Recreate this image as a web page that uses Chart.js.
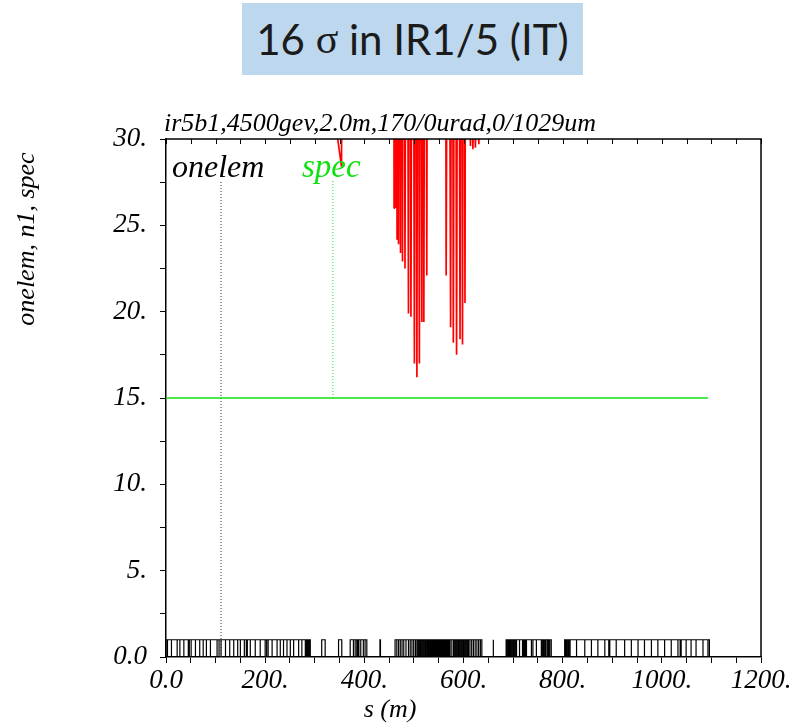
<!DOCTYPE html>
<html>
<head>
<meta charset="utf-8">
<title>16 sigma in IR1/5 (IT)</title>
<script src="https://cdn.jsdelivr.net/npm/chart.js@4.4.1/dist/chart.umd.min.js"></script>
<style>
    html, body { margin: 0; padding: 0; background: #fff; overflow: hidden; }
    #wrap { position: relative; width: 789px; height: 726px; }
    #apertureChart { position: absolute; left: 0; top: 0; }
    #banner {
        position: absolute; left: 242px; top: 3px; width: 341px; height: 72px;
        background: #bdd7ee; color: #1b1b1b;
        font-family: Lato, 'Open Sans', sans-serif; font-size: 42px;
        display: flex; align-items: center; justify-content: center;
        white-space: pre;
    }
    #banner .sym { font-family: 'Liberation Serif', serif; }
</style>
</head>
<body>
<div id="wrap">
    <canvas id="apertureChart" width="789" height="726"></canvas>
    <div id="banner">16 <span class="sym">σ</span> in IR1/5 (IT)</div>
</div>
<script>
// Plot texts
const plotTitle = 'ir5b1,4500gev,2.0m,170/0urad,0/1029um';
const yTitle = 'onelem, n1, spec';
const xTitle = 's (m)';

// Tick labels (major ticks only)
const xTickLabels = ['0.0', '200.', '400.', '600.', '800.', '1000.', '1200.'];
const yTickLabels = ['0.0', '5.', '10.', '15.', '20.', '25.', '30.'];

// n1 aperture curve (s in m, n1 in sigma); values above 30 run off the top
const n1S = [300, 330, 354, 357, 459, 460, 461.5, 463, 464.5, 466, 467.5, 469, 471, 473, 475, 477,
    479.5, 482, 485.5, 489, 491.5, 494, 497.5, 501, 503.5, 506, 508.5, 511, 513.5, 516, 518, 520,
    523, 526, 528, 563, 565, 569.5, 574, 577, 579.5, 583, 586, 589.5, 593, 595.5, 598, 600.5, 603,
    605, 612, 614, 616.5, 619, 621.5, 624, 627.5, 631, 633, 700];
const n1V = [60, 33.4, 28.4, 60, 60, 26.0, 60, 26.0, 60, 24.2, 60, 23.9, 60, 23.4, 60, 22.9,
    60, 22.5, 60, 19.9, 60, 19.7, 60, 17.0, 60, 16.2, 60, 17.0, 60, 19.4, 60, 19.4,
    60, 22.1, 60, 60, 22.1, 60, 19.1, 60, 18.2, 60, 17.5, 60, 18.4, 60, 18.1, 60, 20.5,
    60, 34, 29.6, 34, 29.4, 34, 29.5, 34, 29.7, 40, 60];

// spec level line
const specLevel = 15;
const specFrom = 0;
const specTo = 1093;

// label marker lines (s position, from, to)
const onelemMarker = [111, 0, 27.6];
const specMarker = [336.6, 15, 27.6];

// element boxes: contiguous element edges (m) along the beam line
const elemHeight = 1;
const elemArcLeft = [0, 3, 11, 22.5, 28, 36, 45, 47, 50.7, 59.4, 68, 75, 81.5, 89.6, 103, 107, 111,
    120, 128.5, 136.6, 144.6, 150, 158, 162, 164, 170, 180, 190, 200, 203, 206, 214, 224, 230.5,
    237, 244, 250.7, 257.4, 267.5, 274, 281, 283, 285, 287, 289, 291];
const elemMidA = [314, 321];
const elemMidB = [348, 354.5];
const elemMidC = [371.5, 378, 381.5, 384.8, 387, 389, 392.8, 398, 401.5, 405];
const elemMidD = [431.5, 432.5];
const elemIR = [462, 465.5, 469, 472.5, 476, 479.5, 484, 489, 492.5, 496, 499.5, 503, 506,
    508.5, 511, 513.5, 516, 518.5, 521, 523.5, 526, 527.2, 528.5, 529.6, 530.9, 532, 533.3, 534.4,
    535.7, 536.8, 538, 539.3, 540.4, 541.7, 542.8, 544, 545.3, 546.4, 547.7, 548.8, 550, 551.3,
    552.4, 553.7, 554.8, 556, 557.3, 558.4, 559.7, 560.8, 562, 563.3, 564.4, 565.7, 566.8, 568,
    569.3, 570.4, 571.7, 573, 576.5, 580, 582.5, 585, 587.5, 590, 592.5, 595, 597.5, 600, 602.5,
    605, 607.5, 610, 613, 616.5, 620, 623.5, 627, 630.5, 634, 637];
const elemMidE = [659.5, 660.5];
const elemArcRightA = [686, 688, 690.5, 693, 695, 697.5, 700, 702, 704.5, 707, 713, 719, 721, 723,
    725, 727, 737, 740, 747, 757, 759, 761.5, 764, 766, 769, 771.5, 774, 777];
const elemArcRightB = [804, 806, 808, 810.5, 812.5, 815, 828, 844.6, 858, 871, 885, 893, 895, 908,
    925, 938.5, 952, 965, 979, 992, 1005.6, 1019, 1032.5, 1037, 1039, 1049, 1059, 1069, 1083,
    1093, 1096];

const elemGroups = [elemArcLeft, elemMidA, elemMidB, elemMidC, elemMidD, elemIR, elemMidE,
    elemArcRightA, elemArcRightB];

// outline every element as a box standing on the axis
const elemPoints = [];
elemGroups.forEach(edges => {
    for (let i = 0; i < edges.length - 1; i++) {
        const a = edges[i], b = edges[i + 1];
        elemPoints.push({ x: a, y: 0 }, { x: a, y: elemHeight }, { x: b, y: elemHeight }, { x: b, y: 0 });
    }
});

const n1Points = n1S.map((s, i) => ({ x: s, y: n1V[i] }));

const serif = "'Liberation Serif', 'Times New Roman', serif";
const GREEN = '#12e012';

// frame, inward top ticks and the free text of the plot
const overlay = {
    id: 'overlay',
    afterDraw(chart) {
        const { ctx, chartArea: a, scales: { x } } = chart;
        ctx.save();
        ctx.strokeStyle = '#000';
        ctx.lineWidth = 1.5;
        ctx.beginPath();
        ctx.moveTo(a.left, a.top);
        ctx.lineTo(a.right, a.top);
        ctx.lineTo(a.right, a.bottom);
        ctx.stroke();

        ctx.lineWidth = 1;
        ctx.beginPath();
        x.ticks.forEach(t => {
            const px = Math.round(x.getPixelForValue(t.value)) + 0.5;
            ctx.moveTo(px, a.top);
            ctx.lineTo(px, a.top + 5);
        });
        ctx.stroke();

        ctx.fillStyle = '#000';
        ctx.textBaseline = 'alphabetic';
        ctx.textAlign = 'left';
        ctx.font = 'italic 26px ' + serif;
        ctx.fillText(plotTitle, 164, 131);

        ctx.font = 'italic 32px ' + serif;
        ctx.fillText('onelem', 172, 177);
        ctx.fillStyle = GREEN;
        ctx.font = 'italic 33px ' + serif;
        ctx.fillText('spec', 302, 177);

        ctx.fillStyle = '#000';
        ctx.font = 'italic 26px ' + serif;
        ctx.textAlign = 'center';
        ctx.fillText(xTitle, 390, 717);

        ctx.translate(34, 239);
        ctx.rotate(-Math.PI / 2);
        ctx.fillText(yTitle, 0, 0);
        ctx.restore();
    }
};

new Chart(document.getElementById('apertureChart').getContext('2d'), {
    type: 'line',
    data: {
        datasets: [
            {
                label: 'n1',
                data: n1Points,
                borderColor: '#ff0000',
                borderWidth: 1.7,
                borderJoinStyle: 'bevel'
            },
            {
                label: 'spec',
                data: [{ x: specFrom, y: specLevel }, { x: specTo, y: specLevel }],
                borderColor: GREEN,
                borderWidth: 1.5
            },
            {
                label: 'spec marker',
                data: [{ x: specMarker[0], y: specMarker[1] }, { x: specMarker[0], y: specMarker[2] }],
                borderColor: GREEN,
                borderWidth: 1,
                borderDash: [1, 2]
            },
            {
                label: 'onelem marker',
                data: [{ x: onelemMarker[0], y: onelemMarker[1] }, { x: onelemMarker[0], y: onelemMarker[2] }],
                borderColor: '#333',
                borderWidth: 1,
                borderDash: [1, 2]
            },
            {
                label: 'onelem',
                data: elemPoints,
                borderColor: '#000',
                borderWidth: 1.2
            }
        ]
    },
    options: {
        responsive: false,
        animation: false,
        devicePixelRatio: 1,
        layout: { padding: { top: 139, right: 28, left: 0, bottom: 0 } },
        elements: { point: { radius: 0 }, line: { tension: 0 } },
        plugins: {
            legend: { display: false },
            tooltip: { enabled: false }
        },
        scales: {
            x: {
                type: 'linear',
                min: 0,
                max: 1200,
                grid: { drawOnChartArea: false, color: '#000', tickColor: '#000', tickLength: 6 },
                border: { color: '#000', width: 1.5 },
                ticks: {
                    stepSize: 50,
                    autoSkip: false,
                    maxRotation: 0,
                    padding: 2,
                    color: '#000',
                    font: { family: serif, size: 27, style: 'italic' },
                    callback: v => (v % 200 === 0 ? xTickLabels[v / 200] : '')
                },
                afterFit: s => { s.height = 69; s.paddingLeft = 0; s.paddingRight = 0; }
            },
            y: {
                min: 0,
                max: 30,
                grid: { drawOnChartArea: false, color: '#000', tickColor: '#000', tickLength: 6 },
                border: { color: '#000', width: 1.5 },
                ticks: {
                    stepSize: 2.5,
                    autoSkip: false,
                    padding: 13,
                    color: '#000',
                    font: { family: serif, size: 27, style: 'italic' },
                    callback: v => (v % 5 === 0 ? yTickLabels[v / 5] : '')
                },
                afterFit: s => { s.width = 166; s.paddingTop = 0; s.paddingBottom = 0; }
            }
        }
    },
    plugins: [overlay]
});
</script>
</body>
</html>
